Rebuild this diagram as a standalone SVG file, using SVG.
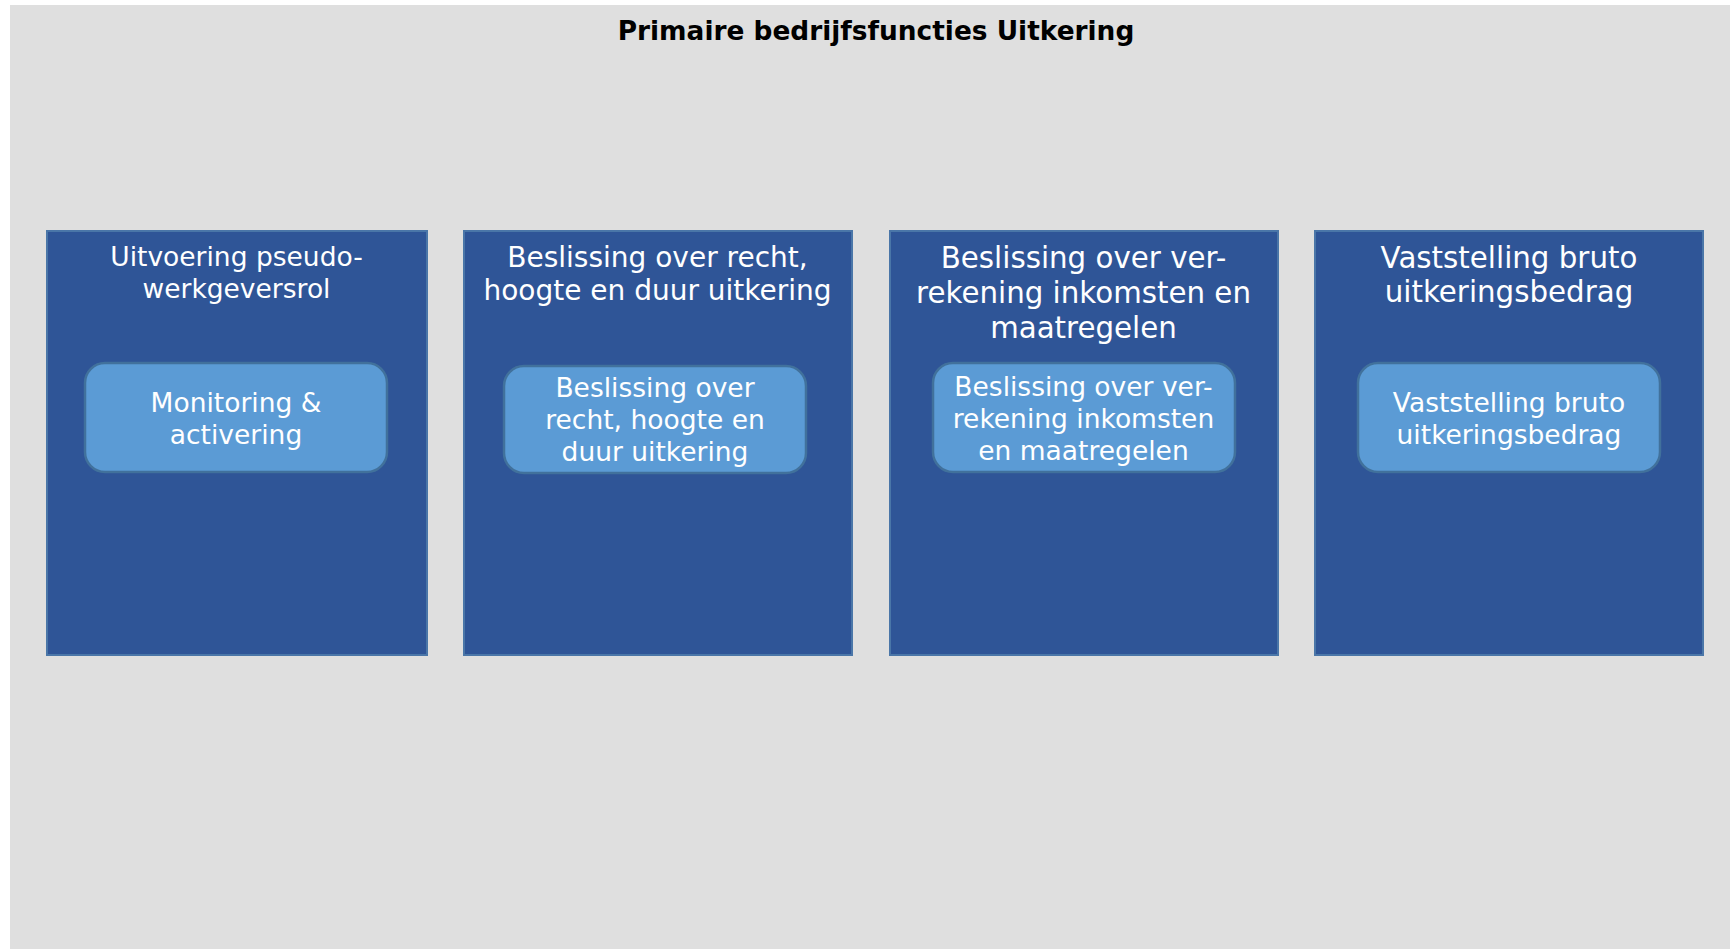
<svg xmlns="http://www.w3.org/2000/svg" width="1730" height="949" viewBox="0 0 1730 949">
<style>
.bg{fill:#dfdfdf}
.outer{fill:#2f5597;stroke:#4a76a8;stroke-width:2}
.inner{fill:#5b9bd5;stroke:#41719c;stroke-width:2.5}
text{font-family:"DejaVu Sans","Verdana",sans-serif;fill:#ffffff;text-anchor:middle}
.title{font-weight:bold;font-size:26.4px;fill:#000000}
.t{font-size:26.5px}
</style>
<rect x="0" y="0" width="1730" height="949" fill="#ffffff"/>
<rect class="bg" x="10" y="5" width="1720" height="944"/>
<text class="title" x="876" y="40">Primaire bedrijfsfuncties Uitkering</text>
<g id="connectors"/>
<g id="node1">
<rect class="outer" x="47" y="231" width="380" height="424"/>
<text style="font-size:26.5px" x="236.5" y="266">Uitvoering pseudo-</text>
<text style="font-size:26.5px" x="236.5" y="298">werkgeversrol</text>
</g>
<g id="node1a">
<rect class="inner" x="85" y="363" width="302" height="109" rx="20"/>
<text class="t" x="236" y="412">Monitoring &amp;</text>
<text class="t" x="236" y="444">activering</text>
</g>
<g id="node2">
<rect class="outer" x="464" y="231" width="388" height="424"/>
<text style="font-size:28px" x="657.5" y="267">Beslissing over recht,</text>
<text style="font-size:28px" x="657.5" y="300">hoogte en duur uitkering</text>
</g>
<g id="node2a">
<rect class="inner" x="504" y="366" width="302" height="107" rx="20"/>
<text class="t" x="655" y="397">Beslissing over</text>
<text class="t" x="655" y="429">recht, hoogte en</text>
<text class="t" x="655" y="461">duur uitkering</text>
</g>
<g id="node3">
<rect class="outer" x="890" y="231" width="388" height="424"/>
<text style="font-size:29.3px" x="1083.5" y="268">Beslissing over ver-</text>
<text style="font-size:29.3px" x="1083.5" y="303">rekening inkomsten en</text>
<text style="font-size:29.3px" x="1083.5" y="338">maatregelen</text>
</g>
<g id="node3a">
<rect class="inner" x="933" y="363" width="302" height="109" rx="20"/>
<text class="t" x="1083.5" y="396">Beslissing over ver-</text>
<text class="t" x="1083.5" y="428">rekening inkomsten</text>
<text class="t" x="1083.5" y="460">en maatregelen</text>
</g>
<g id="node4">
<rect class="outer" x="1315" y="231" width="388" height="424"/>
<text style="font-size:29.3px" x="1509" y="268">Vaststelling bruto</text>
<text style="font-size:29.3px" x="1509" y="302">uitkeringsbedrag</text>
</g>
<g id="node4a">
<rect class="inner" x="1358" y="363" width="302" height="109" rx="20"/>
<text class="t" x="1509" y="412">Vaststelling bruto</text>
<text class="t" x="1509" y="444">uitkeringsbedrag</text>
</g>
</svg>
